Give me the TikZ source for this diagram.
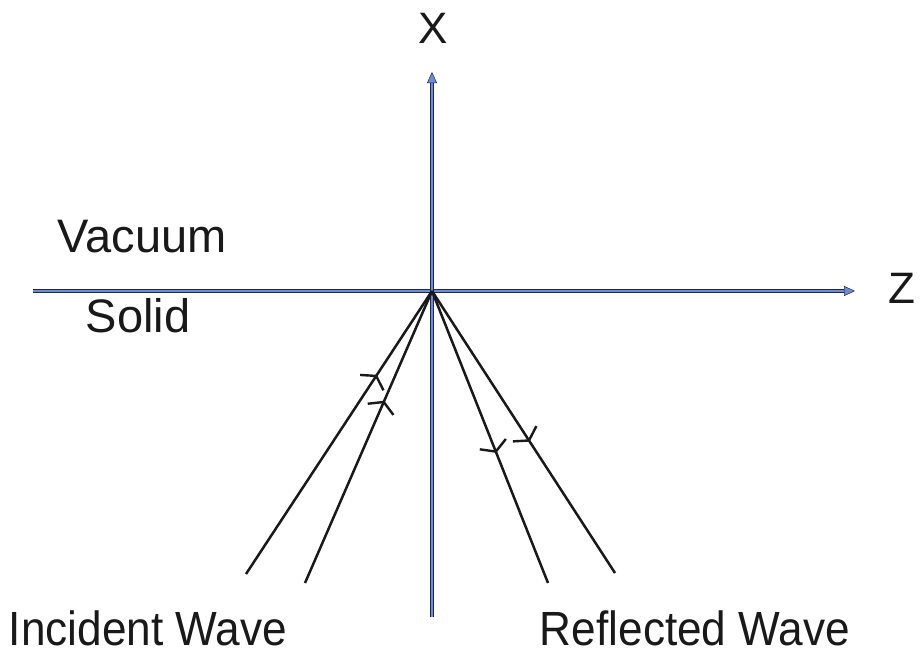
\documentclass[tikz,border=0pt]{standalone}
\usepackage{fontspec}
\setmainfont{Liberation Sans}
\usetikzlibrary{arrows.meta,decorations.markings}
\definecolor{axisblue}{RGB}{112,140,205}
\definecolor{axisedge}{RGB}{30,40,90}

\begin{document}
\begin{tikzpicture}[
    x=1pt, y=-1pt,
    axis/.style={draw=axisedge, line width=0.8pt, double=axisblue, double distance=2pt,
        -{Triangle[length=11pt,width=10pt,fill=axisblue,color=axisedge,line width=0.5pt]}},
    wave/.style={draw=black!90, line width=2.5pt},
    barb/.style={postaction={decorate, decoration={markings,
        mark=at position #1 with {\draw[black!90, line width=2.4pt, line cap=butt]
            (-8pt,14pt) -- (0pt,0pt) -- (-8pt,-14pt);}}}},
    axislabel/.style={font=\fontsize{44}{46}\selectfont, text=black!90},
    medium/.style={font=\fontsize{47}{50}\selectfont, text=black!90},
    wavelabel/.style={font=\fontsize{48}{52}\selectfont, text=black!90}
]
\useasboundingbox (0,0) rectangle (920,656);

% Origin and axis ends
\coordinate (O) at (432,291);
\coordinate (zstart) at (33,291);
\coordinate (zend) at (855,291);
\coordinate (xstart) at (432,617);
\coordinate (xend) at (432,72);

% Axes
\draw[axis] (zstart) -- (zend);
\draw[axis] (xstart) -- (xend);

% Axis labels
\node[axislabel] (xlabel) at (433,28) {X};
\node[axislabel] (zlabel) at (902,288) {Z};

% Media
\node[medium, anchor=base] (vacuum) at (142,252) {Vacuum};
\node[medium, anchor=base] (solid) at (138,332) {Solid};

% Wave ends
\coordinate (inc1) at (246,574);
\coordinate (inc2) at (305,583);
\coordinate (ref1) at (548,583);
\coordinate (ref2) at (615,573);

% Incident rays
\draw[wave, barb=0.70] (inc1) -- (O);
\draw[wave, barb=0.62] (inc2) -- (O);

% Reflected rays
\draw[wave, barb=0.55] (O) -- (ref1);
\draw[wave, barb=0.53] (O) -- (ref2);

% Wave labels
\node[wavelabel, anchor=base] (incident) at (148,645) {\scalebox{0.92}[1]{Incident Wave}};
\node[wavelabel, anchor=base] (reflected) at (695,645) {\scalebox{0.92}[1]{Reflected Wave}};
\end{tikzpicture}
\end{document}
